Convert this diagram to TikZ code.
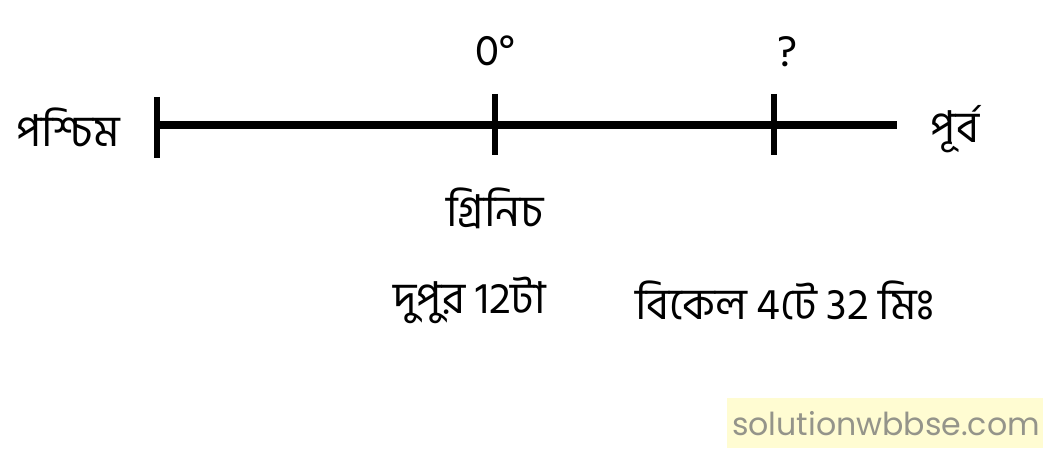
\documentclass[tikz,border=0pt]{standalone}
\usepackage{fontspec}
\newfontfamily\bangla[Script=Bengali]{Hind Siliguri}
\newfontfamily\markfont{Poppins}
\definecolor{markfill}{HTML}{FFFCD2}
\definecolor{markgray}{HTML}{94948A}

\begin{document}
\begin{tikzpicture}[
        x=0.02cm, y=-0.02cm,
        label/.style={
            inner sep=0pt,
            font=\bangla\fontsize{25}{28}\selectfont,
        },
        tick/.style={
            line width=3.4pt,
        },
        axis/.style={
            line width=4.6pt,
        },
    ]

    \useasboundingbox (0, 0) rectangle (1049, 476);

    \coordinate (west) at (157, 125);
    \coordinate (east) at (897, 125);

    \draw[axis] (west) -- (east);

    \draw[tick] (157, 97) -- (157, 158);
    \draw[tick] (495, 94) -- (495, 155);
    \draw[tick] (774, 94) -- (774, 155);

    \node[label] (w)  at (68, 127)  {পশ্চিম};
    \node[label] (e)  at (955, 129) {পূর্ব};
    \node[label] (z)  at (495, 51)  {0°};
    \node[label] (q)  at (787, 52)  {?};
    \node[label] (g)  at (495, 208) {গ্রিনিচ};
    \node[label] (t1) at (470, 300) {দুপুর 12টা};
    \node[label] (t2) at (785, 300) {বিকেল 4টে 32 মিঃ};

    \fill[markfill] (727, 398) rectangle (1043, 448);
    \node[inner sep=0pt, text=markgray, font=\markfont\fontsize{18}{20}\selectfont] (mark) at (886, 424) {solutionwbbse.com};

\end{tikzpicture}
\end{document}
